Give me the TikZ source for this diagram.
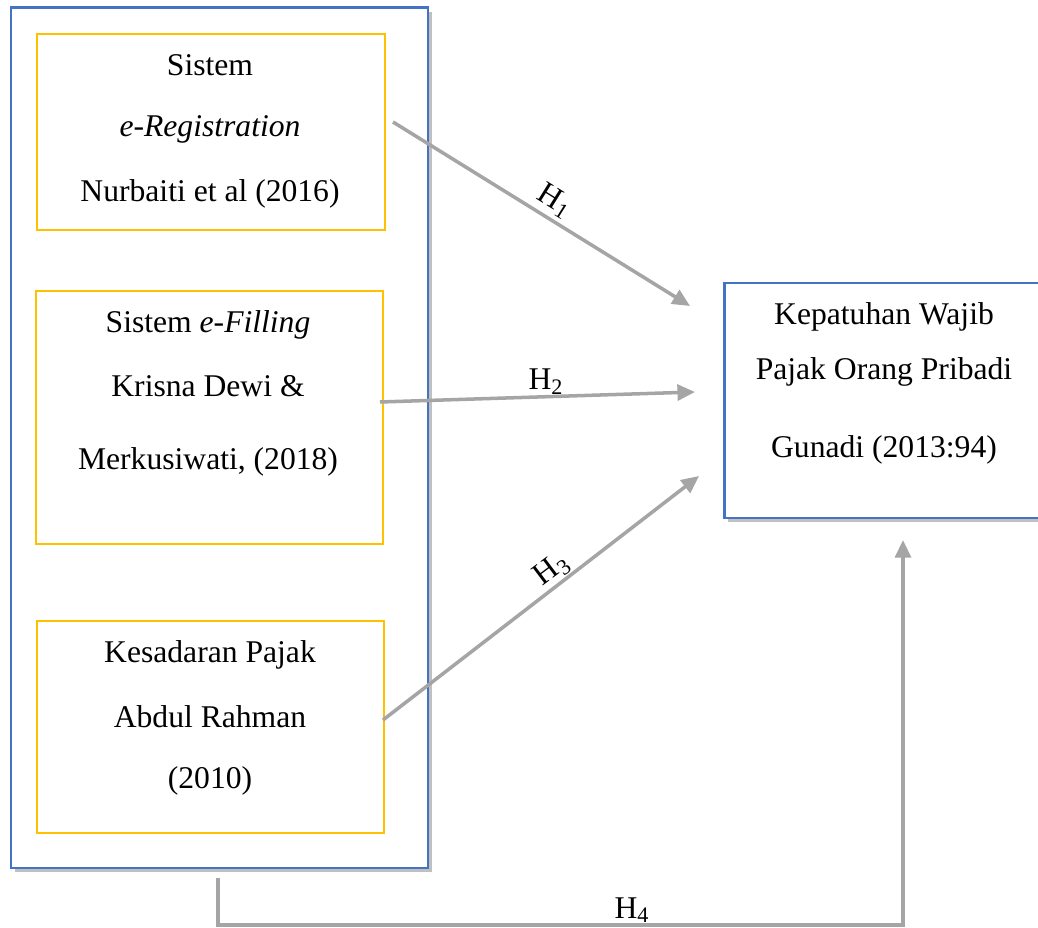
\documentclass[tikz,border=0pt]{standalone}
\usepackage{fontspec}
\setmainfont{Liberation Serif}
\usetikzlibrary{shadows,arrows.meta}
\definecolor{bluebox}{RGB}{68,114,196}
\definecolor{yelbox}{RGB}{255,192,0}
\definecolor{arrgray}{RGB}{165,165,165}
\tikzset{
  outerbox/.style={draw=bluebox, line width=1.7pt, fill=white,
    drop shadow={shadow xshift=2.5pt, shadow yshift=-2.5pt, opacity=0.45, fill=black!55}},
  innerbox/.style={draw=yelbox, line width=1.2pt},
  txt/.style={anchor=base, inner sep=0pt, font=\fontsize{18}{20}\selectfont},
  conn/.style={draw=arrgray, line width=2pt, -{Triangle[length=10pt,width=9pt]}},
  hlab/.style={inner sep=0pt, font=\fontsize{18}{20}\selectfont}
}
\begin{document}
\begin{tikzpicture}[x=0.02cm, y=-0.02cm]
\useasboundingbox (0,0) rectangle (1038,928);
% boxes
\path[outerbox] (11,8) rectangle (428,868);
\coordinate (outerbot) at (218,878);
\node[innerbox, minimum width=348*0.02cm, minimum height=196*0.02cm, anchor=north west, inner sep=0pt] (b1) at (36,33) {};
\node[innerbox, minimum width=347*0.02cm, minimum height=253*0.02cm, anchor=north west, inner sep=0pt] (b2) at (35,290) {};
\node[innerbox, minimum width=347*0.02cm, minimum height=212*0.02cm, anchor=north west, inner sep=0pt] (b3) at (36,620) {};
\path[outerbox] (724,283) rectangle (1046,518);
\node[minimum width=322*0.02cm, minimum height=235*0.02cm, anchor=north west, inner sep=0pt] (dep) at (724,283) {};
% texts box 1
\node[txt] (t11) at (210,76) {Sistem};
\node[txt] (t12) at (210,137) {\itshape e-Registration};
\node[txt] (t13) at (210,202) {Nurbaiti et al (2016)};
% box 2
\node[txt] (t21) at (208,333) {Sistem \textit{e-Filling}};
\node[txt] (t22) at (208,397) {Krisna Dewi \&};
\node[txt] (t23) at (208,470) {Merkusiwati, (2018)};
% box 3
\node[txt] (t31) at (210,663) {Kesadaran Pajak};
\node[txt] (t32) at (210,727) {Abdul Rahman};
\node[txt] (t33) at (210,788) {(2010)};
% dependent
\node[txt] (t41) at (884,325) {Kepatuhan Wajib};
\node[txt] (t42) at (884,380) {Pajak Orang Pribadi};
\node[txt] (t43) at (884,458) {Gunadi (2013:94)};
% connectors
\coordinate (s1) at (393,122);
\coordinate (e1) at (690,306);
\coordinate (s2) at (380,402);
\coordinate (e2) at (695,392);
\coordinate (s3) at (383,720);
\coordinate (e3) at (699,476);
\coordinate (c4a) at (218,925);
\coordinate (c4b) at (903,925);
\coordinate (e4) at (903,540);
\draw[conn] (s1) -- (e1);
\draw[conn] (s2) -- (e2);
\draw[conn] (s3) -- (e3);
\draw[conn] (outerbot) -- (c4a) -- (c4b) -- (e4);
% labels
\node[hlab, rotate=-32] (h1) at (555,201) {H\textsubscript{1}};
\node[txt] (h2) at (546,390) {H\textsubscript{2}};
\node[hlab, rotate=37] (h3) at (552,570) {H\textsubscript{3}};
\node[txt] (h4) at (632,918) {H\textsubscript{4}};
\end{tikzpicture}
\end{document}
